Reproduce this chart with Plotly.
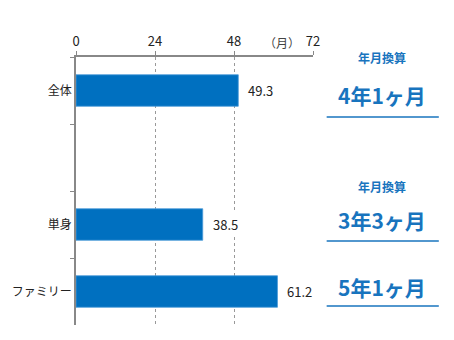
import plotly.graph_objects as go

categories = ["全体", "　", "単身", "ファミリー"]
values = [49.3, None, 38.5, 61.2]
x_ticks = [0, 24, 48, 72]
conv_titles = ["年月換算", "年月換算"]
conv_values = ["4年1ヶ月", "3年3ヶ月", "5年1ヶ月"]

W, H = 454, 340
L, R, T, B = 70, 141, 57, 15
PW, PH = W - L - R, H - T - B

def px(x):
    return (x - L) / PW

def py(y):
    return (H - B - y) / PH

BLUE = "#0070C0"
TXT_BLUE = "#1874BE"
font_fam = "Noto Sans CJK JP"

fig = go.Figure(go.Bar(
    x=values, y=categories, orientation="h",
    marker=dict(color=BLUE, line=dict(color="#4a9ad8", width=0.8)),
    width=0.47, hoverinfo="skip",
))

for c, v in zip(categories, values):
    if v is None:
        continue
    fig.add_annotation(x=v, y=c, xref="x", yref="y", text=f"{v:.1f}",
                       showarrow=False, xanchor="left", yanchor="middle", xshift=7,
                       bgcolor="white", borderpad=2,
                       font=dict(size=13, color="#222", family=font_fam))

fig.add_annotation(x=px(281), y=py(43), xref="paper", yref="paper", text="（月）",
                   xanchor="center", yanchor="middle",
                   showarrow=False, font=dict(size=12, color="#444", family=font_fam))

# conversion panels
title_y = [57, 186]
for t, yy in zip(conv_titles, title_y):
    fig.add_annotation(x=px(384), y=py(yy), xref="paper", yref="paper", text=f"<b>{t}</b>",
                       xanchor="center", yanchor="middle",
                       showarrow=False, font=dict(size=12, color=TXT_BLUE, family=font_fam))
big_y = [95, 220, 287]
line_y = [117, 241, 306]
for t, yy, ly in zip(conv_values, big_y, line_y):
    fig.add_annotation(x=px(384), y=py(yy), xref="paper", yref="paper", text=f"<b>{t}</b>",
                       xanchor="center", yanchor="middle",
                       showarrow=False, font=dict(size=21, color=TXT_BLUE, family=font_fam))
    fig.add_shape(type="line", xref="paper", yref="paper",
                  x0=px(327), x1=px(442), y0=py(ly), y1=py(ly),
                  line=dict(color=TXT_BLUE, width=1.5))

fig.update_layout(
    width=W, height=H, margin=dict(l=L, r=R, t=T, b=B),
    paper_bgcolor="white", plot_bgcolor="white", showlegend=False,
    font=dict(family=font_fam, color="#222"),
    xaxis=dict(side="top", range=[0, 72], tickvals=x_ticks, ticktext=[str(v) for v in x_ticks],
               showgrid=True, gridcolor="#999", griddash="dot", gridwidth=1,
               showline=True, linecolor="#888", linewidth=1.5,
               ticks="outside", ticklen=4, tickcolor="#888",
               tickfont=dict(size=13, color="#222"), zeroline=False, fixedrange=True),
    yaxis=dict(categoryorder="array", categoryarray=categories, autorange="reversed",
               range=[3.5, -0.5], tickson="boundaries", ticks="outside", ticklen=4,
               tickcolor="#888", showline=True, linecolor="#888", linewidth=1.5,
               showgrid=False, tickfont=dict(size=12, color="#222"), fixedrange=True),
)

fig.write_html("out.html")
